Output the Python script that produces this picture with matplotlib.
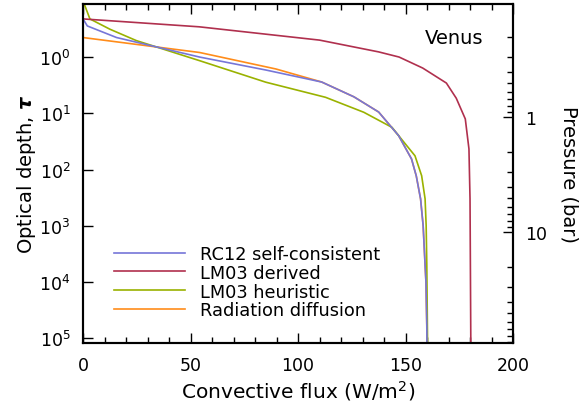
"""
Venus convective flux vs optical depth, four parameterisations.
"""

import matplotlib
matplotlib.use("Agg")
import matplotlib.pyplot as plt
from matplotlib.ticker import FixedLocator, NullLocator, FixedFormatter, NullFormatter, MultipleLocator

# --- Data ---
flux_rc12 = [0, 2.0, 15.6, 54.2, 85, 111, 126, 137.5, 146.8, 152.8, 155, 157, 158.2, 159.1, 159.5, 159.9, 160.0]
tau_rc12 = [0.21, 0.28, 0.45, 1.0, 1.7, 2.78, 5.1, 9.5, 25, 65, 130, 333, 1000, 5000, 1.0e4, 6e4, 2e5]

flux_lm03d = [0, 54, 110, 137.5, 147, 158, 169, 173.6, 177.8, 179.5, 180, 180.4]
tau_lm03d = [0.21, 0.29, 0.5, 0.81, 1.0, 1.57, 2.9, 5.4, 12.6, 43, 333, 2e5]

flux_lm03h = [0, 3.2, 12.5, 24.8, 54.2, 85, 112.8, 130.6, 143.7, 146.8, 154.4, 157.5, 159.1, 159.6, 159.9, 160.3]
tau_lm03h = [0.1, 0.21, 0.32, 0.51, 1.16, 2.8, 5.2, 9.6, 17.8, 25, 57, 129, 333, 1000, 5000, 2e5]

flux_rad = [0, 54.2, 89.7, 111, 126, 137.5, 146.8, 152.8, 155, 157, 158.2, 159.1, 159.5, 159.9, 160.0]
tau_rad = [0.45, 0.83, 1.63, 2.78, 5.1, 9.5, 25, 65, 130, 333, 1000, 5000, 1.0e4, 6e4, 2e5]

labels = ["RC12 self-consistent", "LM03 derived", "LM03 heuristic", "Radiation diffusion"]
colors = ["#7676d8", "#b0304e", "#9ab200", "#ff8c1a"]

tau_lim = (0.114, 1.24e5)
p_lim = (0.1035, 92.7)
tau_ticks = [1, 10, 100, 1000, 1e4, 1e5]
tau_ticklabels = [r"$10^{0}$", r"$10^{1}$", r"$10^{2}$", r"$10^{3}$", r"$10^{4}$", r"$10^{5}$"]
p_ticks = [1, 10]
p_minor = [0.2, 0.3, 0.4, 0.5, 0.6, 0.7, 0.8, 0.9, 2, 3, 4, 5, 6, 7, 8, 9, 20, 30, 40, 50, 60, 70, 80, 90]

plt.rcParams["font.family"] = ["DejaVu Sans"]
plt.rcParams["font.size"] = 12.5

fig = plt.figure(figsize=(5.81, 4.10), dpi=100)
ax = fig.add_axes([0.1429, 0.1598, 0.883 - 0.1429, 0.9878 - 0.1598])

# orange first so the blue line sits on top where they coincide
ax.plot(flux_rad, tau_rad, color=colors[3], lw=1.2, label=labels[3])
ax.plot(flux_lm03h, tau_lm03h, color=colors[2], lw=1.2, label=labels[2])
ax.plot(flux_lm03d, tau_lm03d, color=colors[1], lw=1.2, label=labels[1])
ax.plot(flux_rc12, tau_rc12, color=colors[0], lw=1.2, label=labels[0])

ax.set_yscale("log")
ax.set_xlim(0, 200)
ax.set_ylim(tau_lim[1], tau_lim[0])
ax.yaxis.set_major_locator(FixedLocator(tau_ticks))
ax.yaxis.set_major_formatter(FixedFormatter(tau_ticklabels))
ax.yaxis.set_minor_locator(NullLocator())
ax.xaxis.set_major_locator(MultipleLocator(50))
ax.xaxis.set_minor_locator(MultipleLocator(10))
ax.tick_params(which="major", direction="in", length=7, width=1.0, top=True, right=False, pad=9)
ax.tick_params(which="minor", direction="in", length=4, width=1.0, top=True, right=False)
for s in ax.spines.values():
    s.set_linewidth(1.5)

ax.set_xlabel(r"Convective flux (W/m$^2$)", fontsize=14.5, labelpad=3)
ax.set_ylabel(r"Optical depth, $\boldsymbol{\tau}$", fontsize=14, labelpad=1)

ax.text(0.795, 0.93, "Venus", transform=ax.transAxes, va="top", ha="left", fontsize=14)

handles, labs = ax.get_legend_handles_labels()
order = [3, 2, 1, 0]
ax.legend([handles[i] for i in order], [labs[i] for i in order], loc="lower left",
          bbox_to_anchor=(0.056, 0.05), frameon=False, handlelength=4.0,
          handletextpad=0.8, labelspacing=0.05, borderaxespad=0, fontsize=12.8)

# pressure axis on the right
ax2 = ax.twinx()
ax2.set_yscale("log")
ax2.set_ylim(p_lim[1], p_lim[0])
ax2.yaxis.set_major_locator(FixedLocator(p_ticks))
ax2.yaxis.set_major_formatter(FixedFormatter(["1", "10"]))
ax2.yaxis.set_minor_locator(FixedLocator(p_minor))
ax2.yaxis.set_minor_formatter(NullFormatter())
ax2.tick_params(which="major", direction="in", length=7, width=1.0, pad=9)
ax2.tick_params(which="minor", direction="in", length=4, width=1.0)
ax2.set_ylabel("Pressure (bar)", rotation=270, labelpad=22, fontsize=14)
for s in ax2.spines.values():
    s.set_linewidth(1.5)

fig.savefig("out.png", dpi=100)
